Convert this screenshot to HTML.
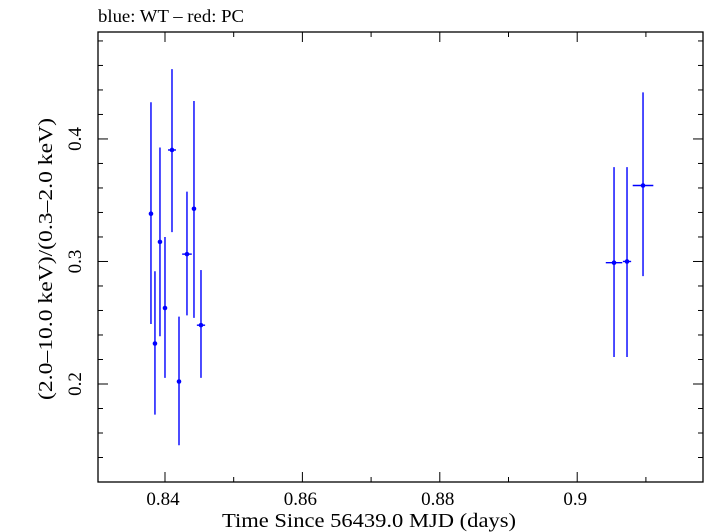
<!DOCTYPE html>
<html><head><meta charset="utf-8"><style>
html,body{margin:0;padding:0;background:#fff;}
svg{display:block;font-family:"Liberation Serif",serif;}
</style></head><body>
<svg id="chart" width="705" height="532" viewBox="0 0 705 532">
<text x="98" y="22" font-size="18" textLength="146" lengthAdjust="spacingAndGlyphs" fill="#000">blue: WT – red: PC</text>
<rect x="98" y="32" width="605" height="450" fill="none" stroke="#000" stroke-width="1.3"/>
<g id="ticks"></g>
<g id="marks"></g>
<text x="222" y="527" font-size="20" textLength="294" lengthAdjust="spacingAndGlyphs">Time Since 56439.0 MJD (days)</text>
<text transform="translate(52,400) rotate(-90)" font-size="20" textLength="282" lengthAdjust="spacingAndGlyphs">(2.0–10.0 keV)/(0.3–2.0 keV)</text>
</svg>
<script>
const times=[0.83796,0.83854,0.83927,0.84,0.84102,0.84204,0.8432,0.84422,0.84524,0.90536,0.90725,0.90958];
const timeErr=[0.0002,0.0002,0.0002,0.0002,0.00058,0.0002,0.0007,0.0002,0.0006,0.0012,0.0006,0.0015];
const ratios=[0.339,0.233,0.316,0.262,0.391,0.202,0.306,0.343,0.248,0.299,0.300,0.362];
const ratioHi=[0.430,0.292,0.393,0.320,0.457,0.255,0.357,0.431,0.293,0.377,0.377,0.438];
const ratioLo=[0.249,0.175,0.239,0.205,0.324,0.150,0.256,0.254,0.205,0.222,0.222,0.288];
const xMajor=[0.84,0.86,0.88,0.90];
const xMajorLabels=["0.84","0.86","0.88","0.9"];
const xMinor=[0.85,0.87,0.89,0.91];
const yMajor=[0.2,0.3,0.4];
const yMajorLabels=["0.2","0.3","0.4"];
const yMinor=[0.14,0.16,0.18,0.22,0.24,0.26,0.28,0.32,0.34,0.36,0.38,0.42,0.44,0.46,0.48];
const L=98,R=703,T=32,B=482;
const X0=0.83025,X1=0.91831,Y0=0.12,Y1=0.4873;
const xs=v=>L+(v-X0)/(X1-X0)*(R-L);
const ys=v=>B-(v-Y0)/(Y1-Y0)*(B-T);
const NS="http://www.w3.org/2000/svg";
const tg=document.getElementById('ticks'),mg=document.getElementById('marks');
function ln(g,x1,y1,x2,y2,c,w){const e=document.createElementNS(NS,'line');e.setAttribute('x1',x1);e.setAttribute('y1',y1);e.setAttribute('x2',x2);e.setAttribute('y2',y2);e.setAttribute('stroke',c);e.setAttribute('stroke-width',w);g.appendChild(e);return e;}
function tx(x,y,s,a){const e=document.createElementNS(NS,'text');e.setAttribute('x',x);e.setAttribute('y',y);e.setAttribute('font-size','19');e.setAttribute('text-anchor',a);e.textContent=s;tg.appendChild(e);return e;}
xMajor.forEach((v,i)=>{const x=xs(v);
 let a=ln(tg,x,B,x,B-10,'#000',1);
 
 
 let b=ln(tg,x,T,x,T+10,'#000',1);
 
 
 let t=tx(x-2,B+23,xMajorLabels[i],'middle');
 
 });
xMinor.forEach(v=>{const x=xs(v);
 let a=ln(tg,x,B,x,B-5,'#000',1);
 
 
 let b=ln(tg,x,T,x,T+5,'#000',1);
 
 });
yMajor.forEach((v,i)=>{const y=ys(v);
 let a=ln(tg,L,y,L+10,y,'#000',1);
 
 
 let b=ln(tg,R,y,R-10,y,'#000',1);
 
 
 let t=tx(0,0,yMajorLabels[i],'middle');
 t.setAttribute('transform','translate('+(L-17)+','+y+') rotate(-90)');
 
 });
yMinor.forEach(v=>{const y=ys(v);if(y<T||y>B)return;
 let a=ln(tg,L,y,L+5,y,'#000',1);
 
 
 let b=ln(tg,R,y,R-5,y,'#000',1);
 
 });
times.forEach((t,i)=>{const x=xs(t),y=ys(ratios[i]);
 let v=ln(mg,x,ys(ratioHi[i]),x,ys(ratioLo[i]),'#0000ff',1.4);
 
 
 let h=ln(mg,xs(t-timeErr[i]),y,xs(t+timeErr[i]),y,'#0000ff',1.4);
 
 
 const c=document.createElementNS(NS,'circle');c.setAttribute('cx',x);c.setAttribute('cy',y);c.setAttribute('r',2.3);c.setAttribute('fill','#0000ff');
 
 
 mg.appendChild(c);});
</script>
</body></html>
